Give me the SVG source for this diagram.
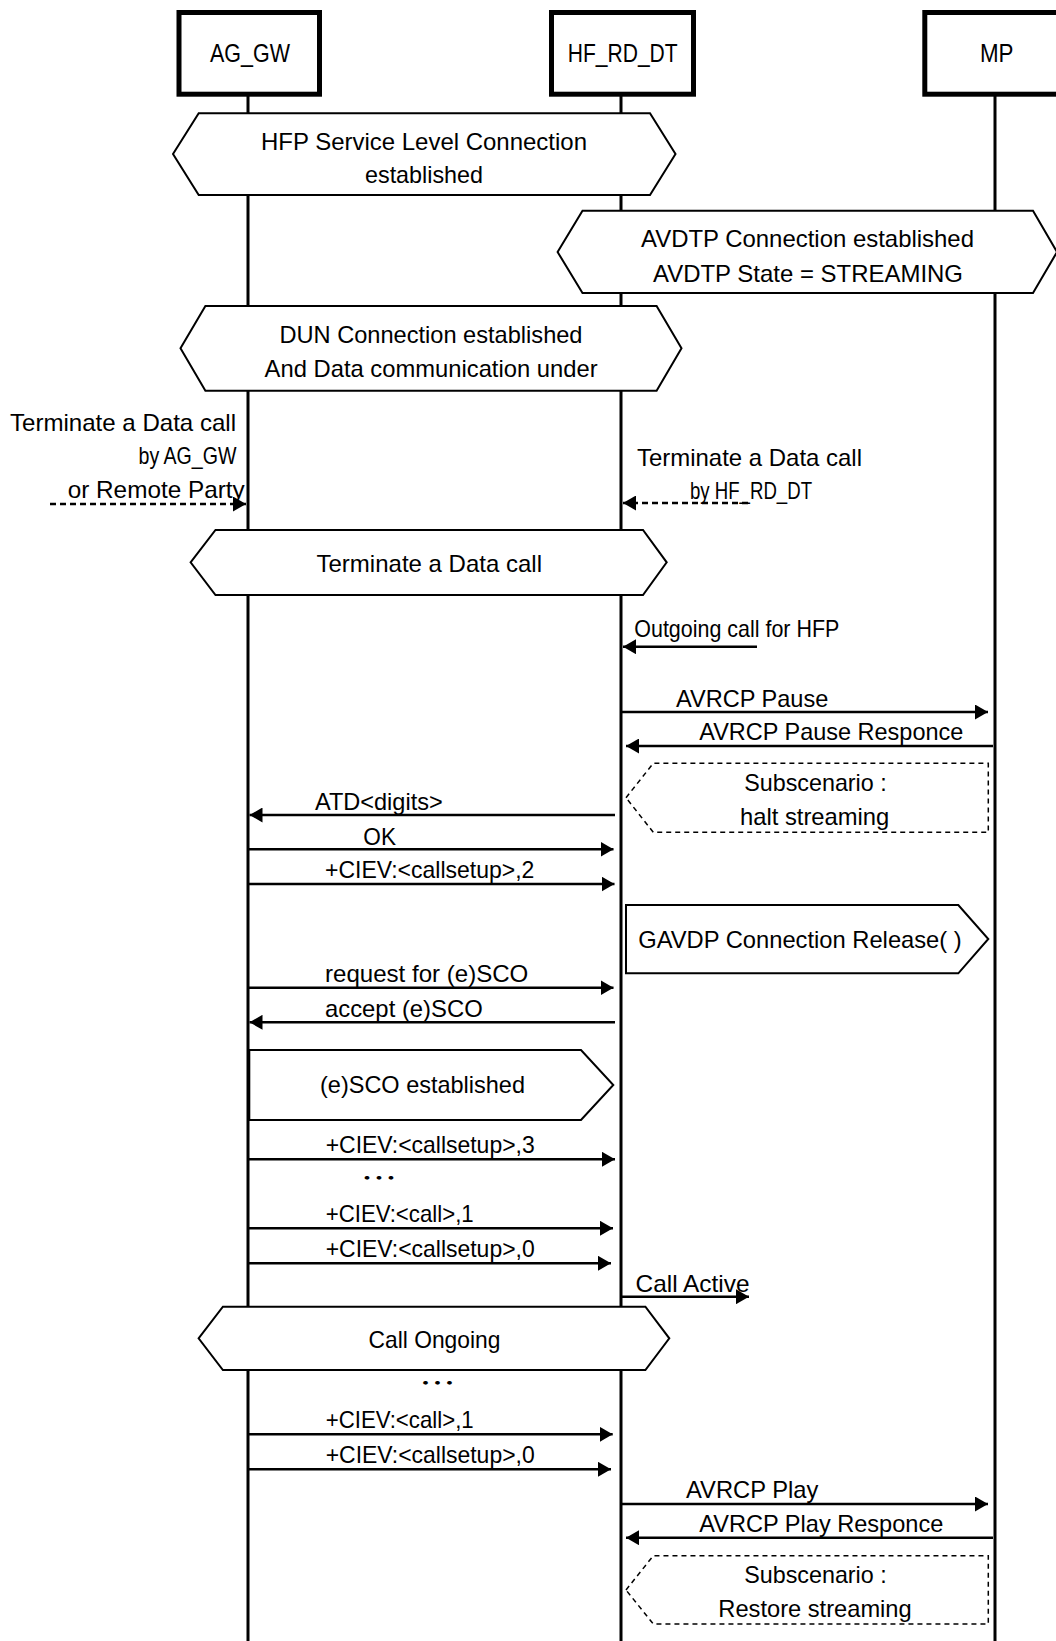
<svg xmlns="http://www.w3.org/2000/svg" width="1056" height="1641" viewBox="0 0 1056 1641">
<style>
text{font-family:"Liberation Sans","DejaVu Sans",sans-serif;font-size:24px;fill:#000}
.hname{font-size:26px}
.hdr{fill:#fff;stroke:#000;stroke-width:5}
.life{stroke:#000;stroke-width:3;fill:none}
.hex{fill:#fff;stroke:#000;stroke-width:2}
.sub{fill:#fff;stroke:#000;stroke-width:1.5;stroke-dasharray:5 4}
.msg{stroke:#000;stroke-width:2.5;fill:none}
.dash{stroke:#000;stroke-width:2.5;fill:none;stroke-dasharray:6 4}
.dots{font-family:"Noto Sans CJK JP",sans-serif;font-size:28px}
</style>
<defs>
<marker id="arr" markerUnits="userSpaceOnUse" markerWidth="13" markerHeight="15" refX="13" refY="7.5" orient="auto">
<path d="M0,0 L13,7.5 L0,15 Z" fill="#000"/>
</marker>
</defs>
<rect width="1056" height="1641" fill="#fff"/>

<g id="lifelines">
<line class="life" x1="248" y1="96" x2="248" y2="1641"/>
<line class="life" x1="621" y1="96" x2="621" y2="1641"/>
<line class="life" x1="995" y1="96" x2="995" y2="1641"/>
</g>

<g id="AG_GW">
<rect class="hdr" x="179" y="12.5" width="140.5" height="81.7"/>
<text class="hname" x="210" y="61.5" textLength="80" lengthAdjust="spacingAndGlyphs">AG_GW</text>
</g>
<g id="HF_RD_DT">
<rect class="hdr" x="551.5" y="12.5" width="142" height="81.7"/>
<text class="hname" x="567.7" y="61.5" textLength="110" lengthAdjust="spacingAndGlyphs">HF_RD_DT</text>
</g>
<g id="MP">
<rect class="hdr" x="924.8" y="12.5" width="145" height="81.7"/>
<text class="hname" x="980" y="61.5" textLength="33.5" lengthAdjust="spacingAndGlyphs">MP</text>
</g>

<g id="hfp_slc">
<polygon class="hex" points="173,154 198.7,113.3 650,113.3 675.5,154 650,195 198.7,195"/>
<text x="261" y="150" textLength="326" lengthAdjust="spacingAndGlyphs">HFP Service Level Connection</text>
<text x="365" y="183" textLength="118" lengthAdjust="spacingAndGlyphs">established</text>
</g>

<g id="avdtp_conn">
<polygon class="hex" points="557.6,252 582.5,210.7 1033,210.7 1057,252 1033,293 582.5,293"/>
<text x="641" y="246.7" textLength="333" lengthAdjust="spacingAndGlyphs">AVDTP Connection established</text>
<text x="653" y="281.7" textLength="310" lengthAdjust="spacingAndGlyphs">AVDTP State = STREAMING</text>
</g>

<g id="dun_conn">
<polygon class="hex" points="180.5,348.3 205.4,306 656.6,306 681.5,348.3 656.6,390.7 205.4,390.7"/>
<text x="279.5" y="343.3" textLength="303" lengthAdjust="spacingAndGlyphs">DUN Connection established</text>
<text x="264.6" y="377.3" textLength="333" lengthAdjust="spacingAndGlyphs">And Data communication under</text>
</g>

<g id="terminate_hex">
<polygon class="hex" points="190.6,562.3 215.5,530 643,530 666.7,562.3 643,595 215.5,595"/>
<text x="316.5" y="571.7" textLength="225.5" lengthAdjust="spacingAndGlyphs">Terminate a Data call</text>
</g>

<g id="sub_halt">
<polygon class="sub" points="626,797.7 653.3,763.3 988.3,763.3 988.3,832.3 653.3,832.3"/>
<text x="744.3" y="790.7" textLength="142.4" lengthAdjust="spacingAndGlyphs">Subscenario :</text>
<text x="740" y="825" textLength="149.3" lengthAdjust="spacingAndGlyphs">halt streaming</text>
</g>

<g id="gavdp_release">
<polygon class="hex" points="626,905 958.3,905 988.3,939 958.3,973.3 626,973.3"/>
<text x="638.3" y="948.3" textLength="323.4" lengthAdjust="spacingAndGlyphs">GAVDP Connection Release( )</text>
</g>

<g id="esco_established">
<polygon class="hex" points="249.3,1050 581,1050 613.3,1085 581,1120 249.3,1120"/>
<text x="320" y="1093.3" textLength="205" lengthAdjust="spacingAndGlyphs">(e)SCO established</text>
</g>

<g id="call_ongoing">
<polygon class="hex" points="198.6,1338.3 222.9,1306.7 645.4,1306.7 669.3,1338.3 645.4,1370 222.9,1370"/>
<text x="368.6" y="1348.3" textLength="131.8" lengthAdjust="spacingAndGlyphs">Call Ongoing</text>
</g>

<g id="sub_restore">
<polygon class="sub" points="626,1590 653.3,1555.7 988.3,1555.7 988.3,1624 653.3,1624"/>
<text x="744.3" y="1583.3" textLength="142.4" lengthAdjust="spacingAndGlyphs">Subscenario :</text>
<text x="718.3" y="1617.3" textLength="193.4" lengthAdjust="spacingAndGlyphs">Restore streaming</text>
</g>

<g id="connectors">
<line class="dash" x1="50" y1="504" x2="246" y2="504" marker-end="url(#arr)"/>
<line class="dash" x1="748" y1="503" x2="623" y2="503" marker-end="url(#arr)"/>
<line class="msg" x1="757" y1="646.7" x2="623" y2="646.7" marker-end="url(#arr)"/>
<line class="msg" x1="621" y1="712" x2="988" y2="712" marker-end="url(#arr)"/>
<line class="msg" x1="993" y1="746" x2="626" y2="746" marker-end="url(#arr)"/>
<line class="msg" x1="615" y1="815" x2="249.5" y2="815" marker-end="url(#arr)"/>
<line class="msg" x1="248" y1="849.3" x2="613.5" y2="849.3" marker-end="url(#arr)"/>
<line class="msg" x1="248" y1="884" x2="614.5" y2="884" marker-end="url(#arr)"/>
<line class="msg" x1="248" y1="987.7" x2="613.5" y2="987.7" marker-end="url(#arr)"/>
<line class="msg" x1="615" y1="1022.3" x2="249.5" y2="1022.3" marker-end="url(#arr)"/>
<line class="msg" x1="248" y1="1159.3" x2="615" y2="1159.3" marker-end="url(#arr)"/>
<line class="msg" x1="248" y1="1228.3" x2="613" y2="1228.3" marker-end="url(#arr)"/>
<line class="msg" x1="248" y1="1263.3" x2="611" y2="1263.3" marker-end="url(#arr)"/>
<line class="msg" x1="621" y1="1296.7" x2="749" y2="1296.7" marker-end="url(#arr)"/>
<line class="msg" x1="248" y1="1434.3" x2="612.7" y2="1434.3" marker-end="url(#arr)"/>
<line class="msg" x1="248" y1="1469.3" x2="611" y2="1469.3" marker-end="url(#arr)"/>
<line class="msg" x1="621" y1="1504" x2="988" y2="1504" marker-end="url(#arr)"/>
<line class="msg" x1="993" y1="1537.7" x2="626" y2="1537.7" marker-end="url(#arr)"/>
</g>

<g id="labels">
<text x="10" y="430.5" textLength="226" lengthAdjust="spacingAndGlyphs">Terminate a Data call</text>
<text x="138.5" y="463.5" textLength="98" lengthAdjust="spacingAndGlyphs">by AG_GW</text>
<text x="67.7" y="498.3" textLength="177" lengthAdjust="spacingAndGlyphs">or Remote Party</text>
<text x="637" y="465.5" textLength="225" lengthAdjust="spacingAndGlyphs">Terminate a Data call</text>
<text x="690" y="499" textLength="122" lengthAdjust="spacingAndGlyphs">by HF_RD_DT</text>
<text x="634.3" y="637.3" textLength="205" lengthAdjust="spacingAndGlyphs">Outgoing call for HFP</text>
<text x="676" y="706.7" textLength="152.3" lengthAdjust="spacingAndGlyphs">AVRCP Pause</text>
<text x="699.3" y="740" textLength="264" lengthAdjust="spacingAndGlyphs">AVRCP Pause Responce</text>
<text x="315" y="810" textLength="127.7" lengthAdjust="spacingAndGlyphs">ATD&lt;digits&gt;</text>
<text x="363.3" y="845" textLength="32.7" lengthAdjust="spacingAndGlyphs">OK</text>
<text x="325" y="878.3" textLength="209.3" lengthAdjust="spacingAndGlyphs">+CIEV:&lt;callsetup&gt;,2</text>
<text x="325" y="981.7" textLength="203.3" lengthAdjust="spacingAndGlyphs">request for (e)SCO</text>
<text x="325" y="1016.7" textLength="157.7" lengthAdjust="spacingAndGlyphs">accept (e)SCO</text>
<text x="325.7" y="1153.3" textLength="209" lengthAdjust="spacingAndGlyphs">+CIEV:&lt;callsetup&gt;,3</text>
<text class="dots" x="361" y="1189" textLength="36" lengthAdjust="spacingAndGlyphs">…</text>
<text x="325.7" y="1221.7" textLength="148" lengthAdjust="spacingAndGlyphs">+CIEV:&lt;call&gt;,1</text>
<text x="325.7" y="1256.7" textLength="209" lengthAdjust="spacingAndGlyphs">+CIEV:&lt;callsetup&gt;,0</text>
<text x="635.5" y="1291.7" textLength="114" lengthAdjust="spacingAndGlyphs">Call Active</text>
<text class="dots" x="419.5" y="1394" textLength="36" lengthAdjust="spacingAndGlyphs">…</text>
<text x="325.7" y="1427.7" textLength="148" lengthAdjust="spacingAndGlyphs">+CIEV:&lt;call&gt;,1</text>
<text x="325.7" y="1462.7" textLength="209" lengthAdjust="spacingAndGlyphs">+CIEV:&lt;callsetup&gt;,0</text>
<text x="686" y="1498.3" textLength="132.3" lengthAdjust="spacingAndGlyphs">AVRCP Play</text>
<text x="699.3" y="1532.3" textLength="244" lengthAdjust="spacingAndGlyphs">AVRCP Play Responce</text>
</g>
</svg>
